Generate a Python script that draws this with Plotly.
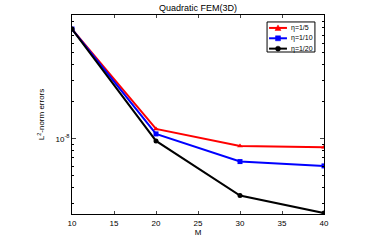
import plotly.graph_objects as go

M = [10, 20, 30, 40]
err_eta5 = [7.83e-8, 1.206e-8, 8.77e-9, 8.56e-9]
err_eta10 = [7.83e-8, 1.098e-8, 6.54e-9, 6.03e-9]
err_eta20 = [7.83e-8, 9.63e-9, 3.46e-9, 2.49e-9]
names = ["η=1/5", "η=1/10", "η=1/20"]
colors = ["#ff0000", "#0000ff", "#000000"]
symbols = ["triangle-up", "square", "circle"]
x_ticks = [10, 15, 20, 25, 30, 35, 40]
y_major = [1e-8]
y_minor = [3e-9, 4e-9, 5e-9, 6e-9, 7e-9, 8e-9, 9e-9,
           2e-8, 3e-8, 4e-8, 5e-8, 6e-8, 7e-8, 8e-8, 9e-8]

fig = go.Figure()
for ys, n, c, s in zip([err_eta5, err_eta10, err_eta20], names, colors, symbols):
    fig.add_trace(go.Scatter(x=M, y=ys, name=n, mode="lines+markers",
                             line=dict(color=c, width=2),
                             marker=dict(symbol=s, size=5, color=c),
                             showlegend=False))

# compact MATLAB-style legend (layout decoration, paper coordinates)
PW, PH = 252.0, 199.0          # plot area size in px
def px(dx):
    return dx / PW
def py(dy):
    return dy / PH

shapes = [dict(type="rect", xref="paper", yref="paper",
               x0=0.774, x1=0.964, y0=0.814, y1=0.965,
               line=dict(color="black", width=1), fillcolor="white", layer="above")]
annotations = []
row_y = [0.935, 0.883, 0.831]
lx0, lx1, mx, tx = 0.782, 0.853, 0.8175, 0.861
for yy, n, c, s in zip(row_y, names, colors, symbols):
    shapes.append(dict(type="line", xref="paper", yref="paper",
                       x0=lx0, x1=lx1, y0=yy, y1=yy,
                       line=dict(color=c, width=2), layer="above"))
    r = 2.5
    if s == "triangle-up":
        path = (f"M {mx - px(r + 0.5)} {yy - py(r)} L {mx + px(r + 0.5)} {yy - py(r)} "
                f"L {mx} {yy + py(r + 0.5)} Z")
        shapes.append(dict(type="path", xref="paper", yref="paper", path=path,
                           fillcolor=c, line=dict(color=c, width=0.5), layer="above"))
    elif s == "square":
        shapes.append(dict(type="rect", xref="paper", yref="paper",
                           x0=mx - px(r), x1=mx + px(r), y0=yy - py(r), y1=yy + py(r),
                           fillcolor=c, line=dict(color=c, width=0.5), layer="above"))
    else:
        shapes.append(dict(type="circle", xref="paper", yref="paper",
                           x0=mx - px(r), x1=mx + px(r), y0=yy - py(r), y1=yy + py(r),
                           fillcolor=c, line=dict(color=c, width=0.5), layer="above"))
    annotations.append(dict(xref="paper", yref="paper", x=tx, y=yy, text=n,
                            showarrow=False, xanchor="left", yanchor="middle",
                            font=dict(size=7, color="black")))

font = "Liberation Sans, Arial, sans-serif"
fig.update_layout(
    width=368, height=242,
    margin=dict(l=72, r=44, t=15, b=28),
    paper_bgcolor="white", plot_bgcolor="white",
    font=dict(family=font, size=8, color="black"),
    title=dict(text="Quadratic FEM(3D)", x=0.538, xanchor="center",
               y=0.967, yanchor="middle", font=dict(size=9)),
    showlegend=False,
    shapes=shapes,
    annotations=annotations,
    xaxis=dict(range=[10, 40], tickvals=x_ticks, ticks="inside", ticklen=3,
               showline=True, linecolor="black", linewidth=1, mirror="ticks",
               showgrid=False, zeroline=False, ticklabelstandoff=1,
               automargin=False,
               title=dict(text="M", standoff=1, font=dict(size=8))),
    yaxis=dict(type="log", range=[-8.611, -6.992], tickvals=y_major,
               ticktext=["10<sup>-8</sup>"], ticks="inside", ticklen=4,
               showline=True, linecolor="black", linewidth=1, mirror="ticks",
               showgrid=False, zeroline=False, automargin=False,
               minor=dict(tickvals=y_minor, ticks="inside", ticklen=2,
                          showgrid=False, tickcolor="black"),
               title=dict(text="L<sup>2</sup>-norm errors", standoff=9,
                          font=dict(size=8))),
)
fig.write_html("out.html",
               config={"displayModeBar": False},
               post_script="document.body.style.margin='0';document.body.style.overflow='hidden';")
